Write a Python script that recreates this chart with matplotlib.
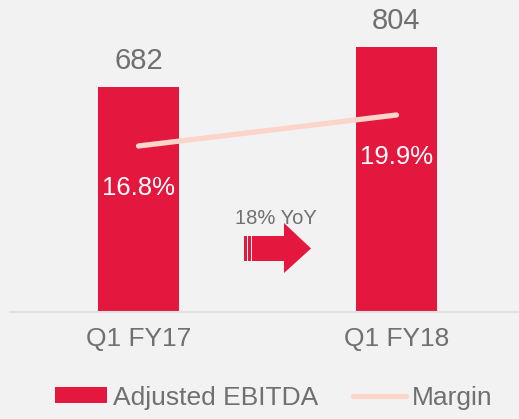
import matplotlib
matplotlib.use("Agg")
import matplotlib.pyplot as plt
from matplotlib.patches import Polygon, Rectangle
from matplotlib.lines import Line2D

categories = ["Q1 FY17", "Q1 FY18"]
ebitda = [682, 804]
margin = [16.8, 19.9]
margin_labels = ["16.8%", "19.9%"]
yoy_label = "18% YoY"

BG = "#F2F2F2"
RED = "#E4173E"
PINK = "#FBD5C9"
GREY = "#707070"

plt.rcParams["font.family"] = ["Liberation Sans", "DejaVu Sans"]

W, H = 519, 419
fig = plt.figure(figsize=(W / 100, H / 100), dpi=100, facecolor=BG)

def fx(px):
    return px / W

def fy(py):
    return 1 - py / H

ax = fig.add_axes([fx(10), fy(312), fx(509), 312 / H])
ax.set_facecolor("none")
x = list(range(len(categories)))
ax.bar(x, ebitda, width=0.314, color=RED, zorder=2)
ax.set_xlim(-0.498, 1.475)
ax.set_ylim(0, 946)
for xi, v in zip(x, ebitda):
    ax.annotate(str(v), (xi, v), xytext=(0, 13), textcoords="offset points",
                ha="center", va="baseline", fontsize=21, color=GREY)
ax.set_xticks(x)
ax.set_xticklabels(categories, fontsize=19, color=GREY)
ax.tick_params(axis="x", length=0, pad=11)
ax.set_yticks([])
for s in ["top", "right", "left"]:
    ax.spines[s].set_visible(False)
ax.spines["bottom"].set_color("#E0E0E0")
ax.spines["bottom"].set_linewidth(1.5)

ax2 = ax.twinx()
ax2.set_ylim(0.2, 31.4)
ax2.plot(x, margin, color=PINK, lw=3.8, solid_capstyle="round", zorder=3)
for xi, v, lab in zip(x, margin, margin_labels):
    ax2.annotate(lab, (xi, v), xytext=(0, -35.6), textcoords="offset points",
                 ha="center", va="baseline", fontsize=18.5, color="white")
ax2.set_yticks([])
for s in ["top", "right", "left", "bottom"]:
    ax2.spines[s].set_visible(False)

# YoY arrow decoration
arrow = Polygon([(fx(252), fy(236)), (fx(284), fy(236)), (fx(284), fy(223)),
                 (fx(311), fy(248.5)), (fx(284), fy(273)), (fx(284), fy(261)),
                 (fx(252), fy(261))], closed=True, transform=fig.transFigure,
                facecolor=RED, edgecolor="none")
fig.add_artist(arrow)
for x0, w in [(244, 2.5), (248, 2.5)]:
    fig.add_artist(Rectangle((fx(x0), fy(261)), fx(w), 25 / H,
                             transform=fig.transFigure, facecolor=RED, edgecolor="none"))
fig.text(fx(276), fy(224), yoy_label, ha="center", va="baseline",
         fontsize=14.5, color=GREY)

handles = [Rectangle((0, 0), 1, 1, facecolor=RED, edgecolor="none"),
           Line2D([], [], color=PINK, lw=3.8, solid_capstyle="round")]
fig.legend(handles, ["Adjusted EBITDA", "Margin"], loc="center",
           bbox_to_anchor=(fx(273.5), fy(397.5)), ncol=2, frameon=False,
           fontsize=19, labelcolor=GREY, handlelength=2.0, handleheight=0.53,
           handletextpad=0.23, columnspacing=1.3, borderpad=0, borderaxespad=0)

fig.savefig("out.png", dpi=100, facecolor=BG)
